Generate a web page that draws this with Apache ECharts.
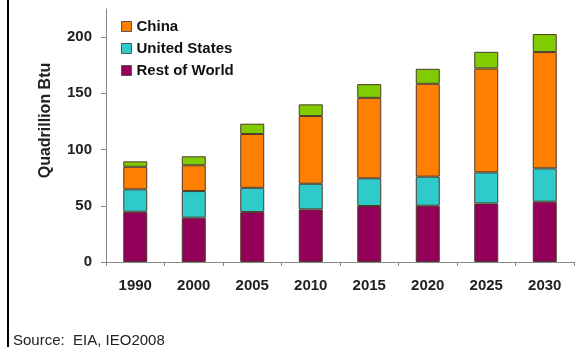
<!DOCTYPE html>
<html>
<head>
<meta charset="utf-8">
<script src="https://cdn.jsdelivr.net/npm/echarts@6/dist/echarts.min.js"></script>
<style>
html,body{margin:0;padding:0;background:#fff;}
#chart{width:575px;height:349px;}
</style>
</head>
<body>
<div id="chart"></div>
<script>
var categories = ['1990','2000','2005','2010','2015','2020','2025','2030'];
var restOfWorld = [44.7, 39.4, 44.4, 46.8, 49.8, 50.0, 52.0, 53.6];
var unitedStates = [19.9, 23.7, 21.6, 22.8, 24.6, 25.9, 27.7, 29.7];
var china = [20.1, 22.9, 47.8, 60.2, 71.6, 82.6, 92.4, 103.4];
var other = [4.8, 8.0, 9.2, 10.4, 12.2, 13.3, 14.8, 16.0];
var yTicks = [0, 50, 100, 150, 200];

var chart = echarts.init(document.getElementById('chart'));
var FONT = '"Liberation Sans", Arial, sans-serif';
var border = {borderColor: '#4a3a2a', borderWidth: 1};
function bar(name, data, color) {
  return {
    name: name, type: 'bar', stack: 'total', data: data, barWidth: 24,
    itemStyle: Object.assign({color: color}, border),
    emphasis: {disabled: true}
  };
}
chart.setOption({
  animation: false,
  textStyle: {fontFamily: FONT},
  grid: {left: 106, right: 1, top: 9, bottom: 87, containLabel: false},
  legend: {
    orient: 'vertical', left: 116, top: 14, itemWidth: 10, itemHeight: 10, itemGap: 7,
    icon: 'rect',
    data: ['China', 'United States', 'Rest of World'],
    textStyle: {fontFamily: FONT, fontWeight: 'bold', fontSize: 15, color: '#111', lineHeight: 15},
    itemStyle: {borderColor: '#555', borderWidth: 1}
  },
  xAxis: {
    type: 'category', data: categories,
    axisLine: {lineStyle: {color: '#888', width: 1}},
    axisTick: {show: true, alignWithLabel: false, length: 4, lineStyle: {color: '#888'}},
    axisLabel: {fontFamily: FONT, fontWeight: 'bold', fontSize: 15, color: '#222', margin: 16}
  },
  yAxis: {
    type: 'value', min: 0, max: 225,
    name: 'Quadrillion Btu', nameLocation: 'middle', nameGap: 52, nameRotate: 90,
    nameTextStyle: {fontFamily: FONT, fontWeight: 'bold', fontSize: 16, color: '#222', padding: [0, 0, 0, 30]},
    axisLine: {show: true, lineStyle: {color: '#888', width: 1}},
    axisTick: {show: true, inside: false, length: 5, customValues: yTicks, lineStyle: {color: '#888'}},
    axisLabel: {customValues: yTicks, fontFamily: FONT, fontWeight: 'bold', fontSize: 15, color: '#222', margin: 14},
    splitLine: {show: false}
  },
  series: [
    bar('Rest of World', restOfWorld, '#93005A'),
    bar('United States', unitedStates, '#2FCACA'),
    bar('China', china, '#FF8000'),
    bar('Other', other, '#80CC00')
  ],
  graphic: [
    {type: 'rect', shape: {x: 7, y: 0, width: 2, height: 347}, style: {fill: '#000'}},
    {type: 'text', left: 13, top: 333, style: {text: 'Source:  EIA, IEO2008', font: '15px "Liberation Sans", Arial, sans-serif', fill: '#222'}}
  ]
});
</script>
</body>
</html>
